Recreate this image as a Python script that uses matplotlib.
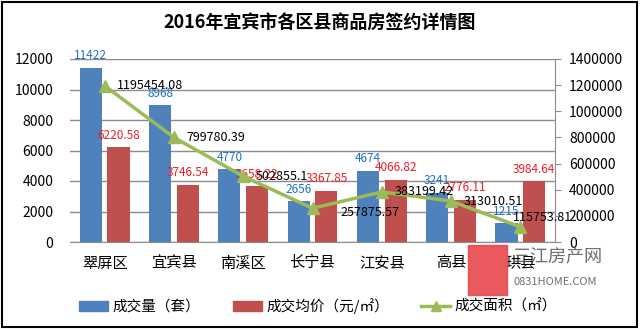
import numpy as np
import matplotlib
matplotlib.use('Agg')
import matplotlib.pyplot as plt
from matplotlib.patches import Rectangle
from matplotlib.lines import Line2D
from matplotlib.ticker import FuncFormatter

plt.rcParams['font.family'] = ['Noto Sans CJK SC', 'DejaVu Sans']

# données
districts = ['翠屏区', '宜宾县', '南溪区', '长宁县', '江安县', '高县', '珙县']
volume = [11422, 8968, 4770, 2656, 4674, 3241, 1215]            # 成交量（套）
price = [6220.58, 3746.54, 3658.22, 3367.85, 4066.82, 2776.11, 3984.64]  # 成交均价
area = [1195454.08, 799780.39, 502855.1, 257875.57, 383199.42, 313010.51, 115753.81]
area_labels = ['1195454.08', '799780.39', '502855.1', '257875.57',
               '383199.42', '313010.51', '115753.81']
title = '2016年宜宾市各区县商品房签约详情图'

blue = '#4f81bd'
red = '#c0504d'
green = '#9bbb59'
grid = '#8c8c8c'

fig = plt.figure(figsize=(6.4, 3.3), dpi=100)
ax = fig.add_axes([70/640, 1 - 242/330, 485/640, 183/330])
ax2 = ax.twinx()

x = np.arange(len(districts))
w = 0.32
ax.bar(x - 0.2, volume, w, color=blue, zorder=2)
ax.bar(x + 0.2, price, w, color=red, zorder=2)

for xi, v in zip(x, volume):
    ax.annotate(str(v), (xi - 0.2, v), xytext=(0, 4), textcoords='offset points',
                ha='center', va='bottom', fontsize=8.5, color='#1f6fc5', zorder=5)
for xi, v in zip(x, price):
    ax.annotate('%.2f' % v, (xi + 0.2, v), xytext=(0, 4), textcoords='offset points',
                ha='center', va='bottom', fontsize=8.5, color='#ee1c25', zorder=5)

ax.set_xlim(-0.5, len(districts) - 0.5)
ax.set_ylim(0, 12000)
ax.set_yticks(range(0, 12001, 2000))
ax.yaxis.grid(True, color=grid, linewidth=1)
ax.set_axisbelow(True)
ax.set_xticks(x)
ax.set_xticklabels(districts, fontsize=11)
ax.tick_params(axis='x', length=0, pad=9)
ax.tick_params(axis='y', length=0, pad=12, labelsize=10)
for s in ['left', 'top', 'right']:
    ax.spines[s].set_visible(False)
ax.spines['bottom'].set_color(grid)

ax2.plot(x, area, color=green, linewidth=2.5, marker='^', markersize=8, zorder=4)
ax2.set_ylim(0, 1400000)
ax2.set_yticks(range(0, 1400001, 200000))
ax2.yaxis.set_major_formatter(FuncFormatter(lambda v, p: '%d' % v))
ax2.tick_params(axis='y', length=4, color=grid, pad=6, labelsize=10)
for s in ['left', 'top', 'bottom']:
    ax2.spines[s].set_visible(False)
ax2.spines['right'].set_color(grid)

special = {3: (20, -3), 6: (-5, 7)}
for i, (xi, v, lab) in enumerate(zip(x, area, area_labels)):
    dx, dy = special.get(i, (9, 0))
    ax2.annotate(lab, (xi, v), xytext=(dx, dy), textcoords='offset points',
                 ha='left', va='center', fontsize=9, color='black', zorder=6)

fig.text(0.5, 1 - 23/330, title, ha='center', va='center', fontsize=13, fontweight='bold')

handles = [Rectangle((0, 0), 1, 1, color=blue),
           Rectangle((0, 0), 1, 1, color=red),
           Line2D([], [], color=green, linewidth=2.5, marker='^', markersize=7)]
fig.legend(handles, ['成交量（套）', '成交均价（元/㎡）', '成交面积（㎡）'],
           loc='center', bbox_to_anchor=(0.497, 1 - 306/330), ncol=3, frameon=False,
           fontsize=10.5, handlelength=2, handleheight=0.7, handletextpad=0.3,
           columnspacing=2.2)

# filigrane
fig.patches.append(Rectangle((468/640, 1 - 295/330), 39/640, 50/330,
                             transform=fig.transFigure, color='#e8474b', alpha=0.9))
fig.text(513/640, 1 - 256/330, '三江房产网', fontsize=13, color='#555555',
         ha='left', va='center', alpha=0.85)
fig.text(514/640, 1 - 282/330, '0831HOME.COM', fontsize=8, color='#555555',
         ha='left', va='center', alpha=0.85)

# cadre
fig.patches.append(Rectangle((1.5/640, 3/330), 635/640, 325.5/330,
                             transform=fig.transFigure, fill=False,
                             edgecolor='black', linewidth=1.5))

fig.savefig('out.png', dpi=100)
